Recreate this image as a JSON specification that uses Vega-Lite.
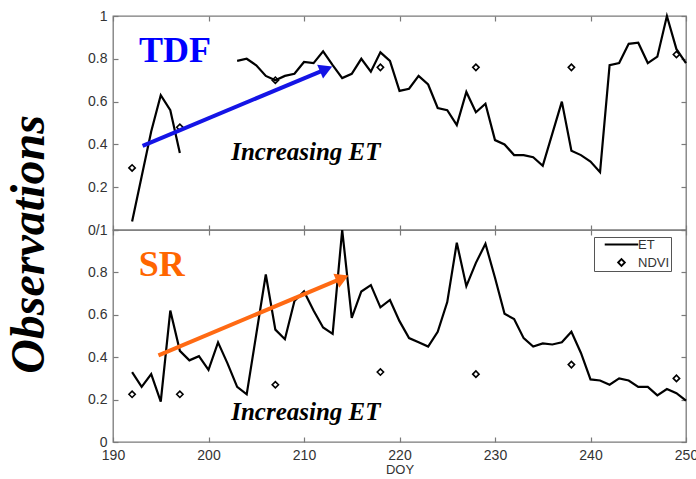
{
  "$schema": "https://vega.github.io/schema/vega-lite/v6.json",
  "autosize": {"type": "pad"},
  "padding": {"left": 4, "top": 8, "right": 5, "bottom": 5},
  "background": "white",
  "spacing": 0,
  "bounds": "flush",
  "datasets": {
    "etTop": [
      {"doy": 192, "v": 0.04, "seg": 1}, {"doy": 193, "v": 0.25, "seg": 1}, {"doy": 194, "v": 0.46, "seg": 1},
      {"doy": 195, "v": 0.63, "seg": 1}, {"doy": 196, "v": 0.56, "seg": 1}, {"doy": 197, "v": 0.36, "seg": 1},
      {"doy": 203, "v": 0.79, "seg": 2}, {"doy": 204, "v": 0.8, "seg": 2}, {"doy": 205, "v": 0.77, "seg": 2},
      {"doy": 206, "v": 0.72, "seg": 2}, {"doy": 207, "v": 0.7, "seg": 2}, {"doy": 208, "v": 0.72, "seg": 2},
      {"doy": 209, "v": 0.73, "seg": 2}, {"doy": 210, "v": 0.785, "seg": 2}, {"doy": 211, "v": 0.78, "seg": 2},
      {"doy": 212, "v": 0.835, "seg": 2}, {"doy": 213, "v": 0.77, "seg": 2}, {"doy": 214, "v": 0.71, "seg": 2},
      {"doy": 215, "v": 0.73, "seg": 2}, {"doy": 216, "v": 0.8, "seg": 2}, {"doy": 217, "v": 0.74, "seg": 2},
      {"doy": 218, "v": 0.83, "seg": 2}, {"doy": 219, "v": 0.79, "seg": 2}, {"doy": 220, "v": 0.65, "seg": 2},
      {"doy": 221, "v": 0.66, "seg": 2}, {"doy": 222, "v": 0.72, "seg": 2}, {"doy": 223, "v": 0.68, "seg": 2},
      {"doy": 224, "v": 0.57, "seg": 2}, {"doy": 225, "v": 0.56, "seg": 2}, {"doy": 226, "v": 0.49, "seg": 2},
      {"doy": 227, "v": 0.645, "seg": 2}, {"doy": 228, "v": 0.55, "seg": 2}, {"doy": 229, "v": 0.59, "seg": 2},
      {"doy": 230, "v": 0.42, "seg": 2}, {"doy": 231, "v": 0.4, "seg": 2}, {"doy": 232, "v": 0.35, "seg": 2},
      {"doy": 233, "v": 0.35, "seg": 2}, {"doy": 234, "v": 0.34, "seg": 2}, {"doy": 235, "v": 0.3, "seg": 2},
      {"doy": 237, "v": 0.6, "seg": 2}, {"doy": 238, "v": 0.37, "seg": 2}, {"doy": 239, "v": 0.35, "seg": 2},
      {"doy": 240, "v": 0.32, "seg": 2}, {"doy": 241, "v": 0.27, "seg": 2}, {"doy": 242, "v": 0.77, "seg": 2},
      {"doy": 243, "v": 0.78, "seg": 2}, {"doy": 244, "v": 0.87, "seg": 2}, {"doy": 245, "v": 0.875, "seg": 2},
      {"doy": 246, "v": 0.78, "seg": 2}, {"doy": 247, "v": 0.81, "seg": 2}, {"doy": 248, "v": 1.0, "seg": 2},
      {"doy": 249, "v": 0.845, "seg": 2}, {"doy": 250, "v": 0.78, "seg": 2}
    ],
    "ndviTop": [
      {"doy": 192, "v": 0.29}, {"doy": 197, "v": 0.48}, {"doy": 207, "v": 0.7}, {"doy": 218, "v": 0.76},
      {"doy": 228, "v": 0.76}, {"doy": 238, "v": 0.76}, {"doy": 249, "v": 0.82}
    ],
    "etBot": [
      {"doy": 192, "v": 0.33}, {"doy": 193, "v": 0.26}, {"doy": 194, "v": 0.32}, {"doy": 195, "v": 0.19},
      {"doy": 196, "v": 0.62}, {"doy": 197, "v": 0.43}, {"doy": 198, "v": 0.385}, {"doy": 199, "v": 0.405},
      {"doy": 200, "v": 0.34}, {"doy": 201, "v": 0.47}, {"doy": 202, "v": 0.37}, {"doy": 203, "v": 0.26},
      {"doy": 204, "v": 0.225}, {"doy": 206, "v": 0.79}, {"doy": 207, "v": 0.53}, {"doy": 208, "v": 0.485},
      {"doy": 209, "v": 0.665}, {"doy": 210, "v": 0.71}, {"doy": 211, "v": 0.62}, {"doy": 212, "v": 0.54},
      {"doy": 213, "v": 0.51}, {"doy": 214, "v": 1.0}, {"doy": 215, "v": 0.585}, {"doy": 216, "v": 0.71},
      {"doy": 217, "v": 0.74}, {"doy": 218, "v": 0.635}, {"doy": 219, "v": 0.67}, {"doy": 220, "v": 0.57},
      {"doy": 221, "v": 0.49}, {"doy": 222, "v": 0.47}, {"doy": 223, "v": 0.45}, {"doy": 224, "v": 0.52},
      {"doy": 225, "v": 0.66}, {"doy": 226, "v": 0.94}, {"doy": 227, "v": 0.735}, {"doy": 228, "v": 0.845},
      {"doy": 229, "v": 0.935}, {"doy": 230, "v": 0.775}, {"doy": 231, "v": 0.605}, {"doy": 232, "v": 0.58},
      {"doy": 233, "v": 0.49}, {"doy": 234, "v": 0.45}, {"doy": 235, "v": 0.465}, {"doy": 236, "v": 0.46},
      {"doy": 237, "v": 0.47}, {"doy": 238, "v": 0.52}, {"doy": 239, "v": 0.42}, {"doy": 240, "v": 0.295},
      {"doy": 241, "v": 0.29}, {"doy": 242, "v": 0.27}, {"doy": 243, "v": 0.3}, {"doy": 244, "v": 0.29},
      {"doy": 245, "v": 0.26}, {"doy": 246, "v": 0.26}, {"doy": 247, "v": 0.22}, {"doy": 248, "v": 0.25},
      {"doy": 249, "v": 0.23}, {"doy": 250, "v": 0.195}
    ],
    "ndviBot": [
      {"doy": 192, "v": 0.225}, {"doy": 197, "v": 0.225}, {"doy": 207, "v": 0.27}, {"doy": 218, "v": 0.33},
      {"doy": 228, "v": 0.32}, {"doy": 238, "v": 0.365}, {"doy": 249, "v": 0.3}
    ],
    "arrowTop": [{"x": 193.1, "y": 0.393, "x2": 212.32, "y2": 0.752, "angle": -22.8}],
    "arrowBot": [{"x": 194.76, "y": 0.409, "x2": 214.02, "y2": 0.773, "angle": -22.9}],
    "labelTop": [{"x": 196.5, "y": 0.785, "text": "TDF"}],
    "labelBot": [{"x": 195.1, "y": 0.785, "text": "SR"}],
    "noteTop": [{"x": 210.2, "y": 0.325, "text": "Increasing ET"}],
    "noteBot": [{"x": 210.2, "y": 0.105, "text": "Increasing ET"}]
  },
  "vconcat": [
    {
      "width": 573,
      "height": 214,
      "layer": [
        {
          "data": {"name": "etTop"},
          "mark": {"type": "line", "color": "black", "strokeWidth": 2.2},
          "encoding": {
            "x": {"field": "doy", "type": "quantitative", "scale": {"domain": [190, 250], "nice": false},
              "axis": {"orient": "bottom", "values": [190, 200, 210, 220, 230, 240, 250], "labels": false, "title": null}},
            "y": {"field": "v", "type": "quantitative", "scale": {"domain": [0, 1], "nice": false},
              "axis": {"orient": "left", "values": [0, 0.2, 0.4, 0.6, 0.8, 1],
                "labelExpr": "datum.value == 0 ? '' : (datum.value == 1 ? '1' : format(datum.value, '.1f'))",
                "title": "Observations", "titleFont": "Liberation Serif", "titleFontSize": 48, "titleFontStyle": "italic",
                "titleFontWeight": "bold", "titleColor": "black", "titleAngle": 270, "titleX": -84, "titleY": 228,
                "titleAlign": "center", "titleBaseline": "middle"}},
            "detail": {"field": "seg", "type": "nominal"}
          }
        },
        {
          "data": {"name": "ndviTop"},
          "mark": {"type": "point", "shape": "diamond", "filled": false, "color": "black", "size": 40, "strokeWidth": 1.6, "opacity": 1},
          "encoding": {
            "x": {"field": "doy", "type": "quantitative",
              "axis": {"orient": "top", "values": [190, 200, 210, 220, 230, 240, 250], "labels": false, "title": null}},
            "y": {"field": "v", "type": "quantitative",
              "axis": {"orient": "right", "values": [0, 0.2, 0.4, 0.6, 0.8, 1], "labels": false, "title": null}}
          }
        },
        {
          "data": {"name": "arrowTop"},
          "mark": {"type": "rule", "color": "#1414E6", "strokeWidth": 4},
          "encoding": {
            "x": {"field": "x", "type": "quantitative", "axis": null},
            "y": {"field": "y", "type": "quantitative", "axis": null},
            "x2": {"field": "x2"}, "y2": {"field": "y2"}
          }
        },
        {
          "data": {"name": "arrowTop"},
          "mark": {"type": "point", "shape": "triangle-right", "filled": true, "color": "#1414E6", "size": 230, "opacity": 1},
          "encoding": {
            "x": {"field": "x2", "type": "quantitative", "axis": null},
            "y": {"field": "y2", "type": "quantitative", "axis": null},
            "angle": {"field": "angle", "type": "quantitative", "scale": null}
          }
        },
        {
          "data": {"name": "labelTop"},
          "mark": {"type": "text", "font": "Liberation Serif", "fontSize": 36, "fontWeight": "bold", "color": "#0000FF", "align": "center", "baseline": "alphabetic"},
          "encoding": {
            "x": {"field": "x", "type": "quantitative", "axis": null},
            "y": {"field": "y", "type": "quantitative", "axis": null},
            "text": {"field": "text"}
          }
        },
        {
          "data": {"name": "noteTop"},
          "mark": {"type": "text", "font": "Liberation Serif", "fontSize": 25, "fontWeight": "bold", "fontStyle": "italic", "color": "black", "align": "center", "baseline": "alphabetic"},
          "encoding": {
            "x": {"field": "x", "type": "quantitative", "axis": null},
            "y": {"field": "y", "type": "quantitative", "axis": null},
            "text": {"field": "text"}
          }
        }
      ],
      "resolve": {"axis": {"x": "independent", "y": "independent"}}
    },
    {
      "width": 573,
      "height": 212,
      "layer": [
        {
          "data": {"name": "etBot"},
          "mark": {"type": "line", "color": "black", "strokeWidth": 2.2},
          "encoding": {
            "x": {"field": "doy", "type": "quantitative", "scale": {"domain": [190, 250], "nice": false},
              "axis": {"orient": "bottom", "values": [190, 200, 210, 220, 230, 240, 250], "title": "DOY",
                "titleFont": "Liberation Sans", "titleFontSize": 13, "titleFontWeight": "normal", "titleColor": "#333333", "titlePadding": 1}},
            "y": {"field": "v", "type": "quantitative", "scale": {"domain": [0, 1], "nice": false},
              "axis": {"orient": "left", "values": [0, 0.2, 0.4, 0.6, 0.8, 1],
                "labelExpr": "datum.value == 1 ? '0/1' : (datum.value == 0 ? '0' : format(datum.value, '.1f'))", "title": null}}
          }
        },
        {
          "data": {"name": "ndviBot"},
          "mark": {"type": "point", "filled": false, "color": "black", "size": 40, "strokeWidth": 1.6, "opacity": 1},
          "encoding": {
            "x": {"field": "doy", "type": "quantitative",
              "axis": {"orient": "top", "values": [190, 200, 210, 220, 230, 240, 250], "labels": false, "title": null}},
            "y": {"field": "v", "type": "quantitative",
              "axis": {"orient": "right", "values": [0, 0.2, 0.4, 0.6, 0.8, 1], "labels": false, "title": null}},
            "shape": {"datum": "NDVI", "scale": {"domain": ["ET", "NDVI"], "range": ["M-5,0L5,0", "diamond"]},
              "legend": {"title": null, "orient": "none", "legendX": 481, "legendY": 221,
                "strokeColor": "#555555", "fillColor": "white", "padding": 1,
                "labelFont": "Liberation Sans", "labelFontSize": 13, "labelColor": "#333333",
                "symbolSize": 45, "symbolStrokeWidth": 1.8, "symbolStrokeColor": "black", "rowPadding": 3,
                "symbolOffset": 20, "labelOffset": 10}}
          }
        },
        {
          "data": {"name": "arrowBot"},
          "mark": {"type": "rule", "color": "#FF6A13", "strokeWidth": 4},
          "encoding": {
            "x": {"field": "x", "type": "quantitative", "axis": null},
            "y": {"field": "y", "type": "quantitative", "axis": null},
            "x2": {"field": "x2"}, "y2": {"field": "y2"}
          }
        },
        {
          "data": {"name": "arrowBot"},
          "mark": {"type": "point", "shape": "triangle-right", "filled": true, "color": "#FF6A13", "size": 230, "opacity": 1},
          "encoding": {
            "x": {"field": "x2", "type": "quantitative", "axis": null},
            "y": {"field": "y2", "type": "quantitative", "axis": null},
            "angle": {"field": "angle", "type": "quantitative", "scale": null}
          }
        },
        {
          "data": {"name": "labelBot"},
          "mark": {"type": "text", "font": "Liberation Serif", "fontSize": 36, "fontWeight": "bold", "color": "#FF6600", "align": "center", "baseline": "alphabetic"},
          "encoding": {
            "x": {"field": "x", "type": "quantitative", "axis": null},
            "y": {"field": "y", "type": "quantitative", "axis": null},
            "text": {"field": "text"}
          }
        },
        {
          "data": {"name": "noteBot"},
          "mark": {"type": "text", "font": "Liberation Serif", "fontSize": 25, "fontWeight": "bold", "fontStyle": "italic", "color": "black", "align": "center", "baseline": "alphabetic"},
          "encoding": {
            "x": {"field": "x", "type": "quantitative", "axis": null},
            "y": {"field": "y", "type": "quantitative", "axis": null},
            "text": {"field": "text"}
          }
        }
      ],
      "resolve": {"axis": {"x": "independent", "y": "independent"}}
    }
  ],
  "config": {
    "view": {"stroke": "#7a7a7a", "strokeWidth": 1.3},
    "axis": {"grid": false, "domain": false, "tickColor": "#7a7a7a", "tickSize": -5, "tickWidth": 1.2,
      "labelFont": "Liberation Sans", "labelFontSize": 14, "labelColor": "#333333", "labelPadding": 11, "labelFlush": false}
  }
}
